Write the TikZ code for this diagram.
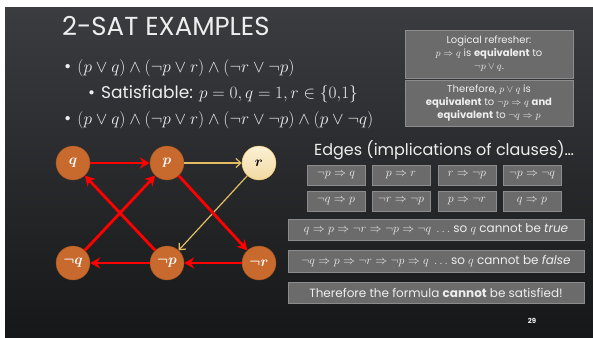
\documentclass[tikz,border=0pt]{standalone}
\usepackage{fontspec}
\setmainfont{Poppins}
\usepackage{amsmath,amssymb}
\usetikzlibrary{arrows.meta,positioning,shapes.geometric,calc}
\definecolor{slidetop}{HTML}{3A3C40}
\definecolor{slidebot}{HTML}{161718}
\definecolor{lit}{HTML}{C8692E}
\definecolor{litedge}{HTML}{A0531F}
\definecolor{cream}{HTML}{FCF1D6}
\definecolor{creamdk}{HTML}{F1D9A2}
\definecolor{tan}{HTML}{E2BD64}
\definecolor{boxgray}{HTML}{6B6B6B}
\definecolor{boxline}{HTML}{8C8C8C}
\definecolor{txt}{HTML}{EEEEEE}

\begin{document}
\begin{tikzpicture}[
  x=1pt, y=-1pt,
  >=Stealth,
  lit/.style={circle, draw=litedge, fill=lit, minimum size=34pt, inner sep=0pt, text=white, font=\boldmath\fontsize{15}{15}\selectfont},
  bul/.style={anchor=west, text=txt, inner sep=0pt, font=\fontsize{17.6}{17.6}\selectfont},
  gbox/.style={draw=boxline, fill=boxgray, line width=0.8pt, text=txt, align=center, inner sep=0pt},
  ebox/.style={gbox, minimum width=58pt, minimum height=20pt, font=\fontsize{12}{12}\selectfont},
  lbox/.style={gbox, minimum width=296pt, minimum height=21pt, font=\fontsize{12}{12}\selectfont},
  redarr/.style={line width=2.8pt, color=red, -{Stealth[length=10pt,width=11pt]}},
  tanarr/.style={line width=1.2pt, color=tan, -{Straight Barb[length=5pt,width=9pt]}},
]
\useasboundingbox (0,0) rectangle (593,337);
\shade[top color=slidetop, bottom color=slidebot] (5,8) rectangle (593,337);

% title and bullets
\node[anchor=base west, text=txt, inner sep=0pt, font=\fontsize{26}{26}\selectfont] (title) at (62,36) {2-SAT EXAMPLES};
\node[bul] (bulA) at (64,68) {\textbullet\hspace{6pt}$(p\vee q)\wedge(\neg p\vee r)\wedge(\neg r\vee\neg p)$};
\node[bul, font=\fontsize{17}{17}\selectfont] (bulB) at (88,94) {\textbullet\hspace{6pt}Satisfiable: $p=0,q=1,r\in\{0{,}1\}$};
\node[bul] (bulC) at (64,120) {\textbullet\hspace{6pt}$(p\vee q)\wedge(\neg p\vee r)\wedge(\neg r\vee\neg p)\wedge(p\vee\neg q)$};

% refresher boxes
\node[gbox, minimum width=168pt, minimum height=48pt, font=\fontsize{10}{13}\selectfont] (refresher) at (489,54)
  {Logical refresher:\\ $p\Rightarrow q$ is \textbf{equivalent} to\\ $\neg p\vee q$.};
\node[gbox, minimum width=168pt, minimum height=46pt, font=\fontsize{10}{13}\selectfont] (therefore) at (489,103)
  {Therefore, $p\vee q$ is\\ \textbf{equivalent} to $\neg p\Rightarrow q$ \textbf{and}\\ \textbf{equivalent} to $\neg q\Rightarrow p$};

% implication graph
\node[lit] (q) at (73,163) {$q$};
\node[lit] (p) at (167,163) {$p$};
\node[lit, draw=tan, top color=cream, bottom color=creamdk, text=black] (r) at (259,163) {$r$};
\node[lit] (nq) at (73,263) {$\neg q$};
\node[lit] (np) at (167,263) {$\neg p$};
\node[lit] (nr) at (259,263) {$\neg r$};

\draw[redarr] (q) -- (p);
\draw[tanarr] (p) -- (r);
\draw[tanarr] (r) -- (np);
\draw[redarr] (p) -- (nr);
\draw[redarr] (nr) -- (np);
\draw[redarr] (np) -- (nq);
\draw[redarr] (nq) -- (p);
\draw[redarr] (np) -- (q);

% edges list
\node[text=txt, inner sep=0pt, font=\fontsize{16}{16}\selectfont] (edgehead) at (444,150) {Edges (implications of clauses)\ldots};
\node[ebox] (e1) at (336,175) {$\neg p\Rightarrow q$};
\node[ebox] (e2) at (401,175) {$p\Rightarrow r$};
\node[ebox] (e3) at (467,175) {$r\Rightarrow\neg p$};
\node[ebox] (e4) at (532,175) {$\neg p\Rightarrow\neg q$};
\node[ebox] (e5) at (336,201) {$\neg q\Rightarrow p$};
\node[ebox] (e6) at (401,201) {$\neg r\Rightarrow\neg p$};
\node[ebox] (e7) at (467,201) {$p\Rightarrow\neg r$};
\node[ebox] (e8) at (532,201) {$q\Rightarrow p$};

\node[lbox] (chainT) at (436,229.5) {$q\Rightarrow p\Rightarrow\neg r\Rightarrow\neg p\Rightarrow\neg q\ \ldots$ so $q$ cannot be $\mathit{true}$};
\node[lbox, minimum height=22pt] (chainF) at (436,261) {$\neg q\Rightarrow p\Rightarrow\neg r\Rightarrow\neg p\Rightarrow q\ \ldots$ so $q$ cannot be $\mathit{false}$};
\node[lbox] (verdict) at (436,292.5) {Therefore the formula \textbf{cannot} be satisfied!};

\node[text=txt, inner sep=0pt, font=\bfseries\fontsize{7}{7}\selectfont] (pagenum) at (532,321) {29};
\end{tikzpicture}
\end{document}
